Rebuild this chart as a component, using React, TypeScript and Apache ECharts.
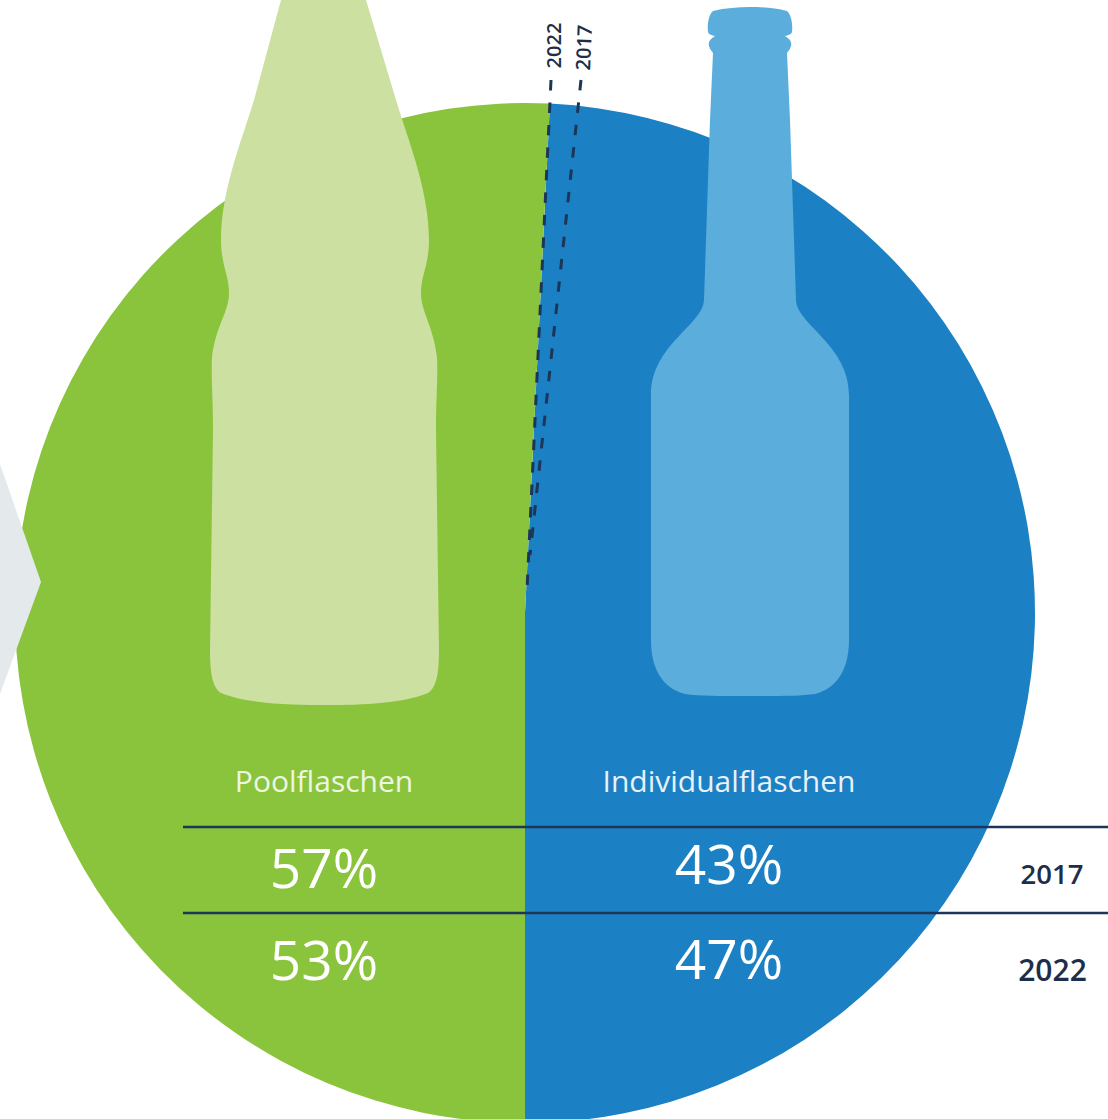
import React, { useEffect, useRef } from "react";
import * as echarts from "echarts";

// Data
const sliceNames = ["Individualflaschen", "Poolflaschen"];
const sliceDegrees = [177.2, 182.8];
const sliceColors = ["#1C80C4", "#8AC43C"];
const years = ["2017", "2022"];
const poolShares = ["57%", "53%"];
const individualShares = ["43%", "47%"];

const POOL_BOTTLE =
  "M281 0 L366 0 L396 100 C408 140 429 190 429 240 C429 265 421 275 421 293 C421 312 433 325 437 357 C438 375 436 400 436 430 L439 650 C439 675 436 688 428 693 C400 705 350 705 325 705 C300 705 250 705 221 693 C213 688 210 675 210 650 L213 430 C213 400 211 375 212 357 C216 325 229 312 229 293 C229 275 221 265 221 240 C221 190 242 140 254 100 Z";
const INDIVIDUAL_BOTTLE =
  "M713 11 C725 8 738 7 750 7 C762 7 775 8 787 11 C791 14 793 24 792 32 C791 35 788 35 785 36 C790 39 792 42 791 46 C790 50 788 51 787 53 L790 120 L796 300 C797 325 849 345 849 395 L849 640 C849 668 838 688 815 694 C800 696 780 696 750 696 C720 696 700 696 685 694 C662 688 651 668 651 640 L651 395 C651 345 703 325 704 300 L710 120 L713 53 C712 51 710 50 709 46 C708 42 710 39 715 36 C712 35 709 35 708 32 C707 24 709 14 713 11 Z";

echarts.graphic.registerShape("poolBottle", echarts.graphic.extendPath(POOL_BOTTLE, {}) as any);
echarts.graphic.registerShape("individualBottle", echarts.graphic.extendPath(INDIVIDUAL_BOTTLE, {}) as any);

const FONT = "'Open Sans', 'Noto Sans', sans-serif";
const NAVY = "#1D3557";

function label(text: string, x: number, y: number, size: number, fill: string, weight: any = 400, rotation = 0) {
  return {
    type: "text",
    x,
    y,
    rotation,
    z: 30,
    style: { text, fill, fontSize: size, fontWeight: weight, fontFamily: FONT, textAlign: "center", textVerticalAlign: "middle" },
  };
}

function rule(x1: number, y1: number, x2: number, y2: number, dash?: number[], width = 2.5) {
  return {
    type: "line",
    z: 20,
    shape: { x1, y1, x2, y2 },
    style: { stroke: NAVY, lineWidth: width, lineDash: dash },
  };
}

export default function App() {
  const ref = useRef<HTMLDivElement>(null);
  useEffect(() => {
    const chart = echarts.init(ref.current!, undefined, { renderer: "svg" });
    chart.setOption({
      animation: false,
      backgroundColor: "#ffffff",
      series: [
        {
          type: "pie",
          center: [525, 613],
          radius: [0, 510],
          startAngle: 87.2,
          clockwise: true,
          silent: true,
          label: { show: false },
          labelLine: { show: false },
          data: sliceNames.map((name, i) => ({
            name,
            value: sliceDegrees[i],
            itemStyle: { color: sliceColors[i] },
          })),
        },
      ],
      graphic: {
        elements: [
          { type: "poolBottle", z: 10, style: { fill: "#CBE0A1" } },
          { type: "individualBottle", z: 10, style: { fill: "#5BADDC" } },
          {
            type: "polygon",
            z: 10,
            shape: { points: [[0, 464], [41, 582], [0, 694]] },
            style: { fill: "#E4EAEC" },
          },
          rule(183, 827, 1108, 827),
          rule(183, 913, 1108, 913),
          rule(551, 80, 527, 590, [10.5, 12], 3),
          rule(581, 80, 530, 555, [10.5, 12], 3),
          label(sliceNames[1], 324, 780, 30, "#EEF6E2"),
          label(sliceNames[0], 729, 780, 30, "#E8F2FA"),
          label(poolShares[0], 324, 866, 55, "#FFFFFF"),
          label(poolShares[1], 324, 958, 55, "#FFFFFF"),
          label(individualShares[0], 729, 862, 55, "#FFFFFF"),
          label(individualShares[1], 729, 957, 55, "#FFFFFF"),
          label(years[0], 1052, 873, 27.5, "#1E2E4A", 600),
          label(years[1], 1052.5, 969, 30, "#1E2E4A", 600),
          label(years[1], 553, 45.5, 20, "#1E2E4A", 600, Math.PI / 2),
          label(years[0], 583.5, 47.5, 20, "#1E2E4A", 600, Math.PI / 2 - 0.04),
        ],
      },
    });
    return () => chart.dispose();
  }, []);
  return (
    <div
      ref={ref}
      style={{ position: "absolute", left: 0, top: 0, width: 1108, height: 1119, overflow: "hidden" }}
    />
  );
}
